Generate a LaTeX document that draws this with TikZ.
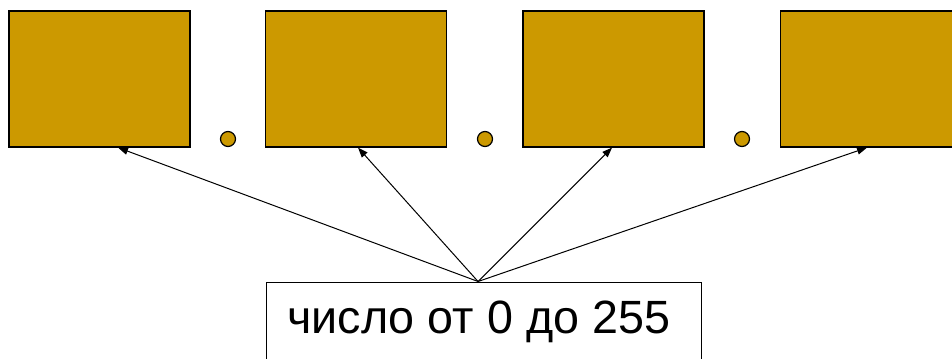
\documentclass[tikz,border=0pt]{standalone}
\usepackage{fontspec}
\setmainfont{Liberation Sans}
\definecolor{bytegold}{RGB}{204, 153, 0}
\usepackage{tikz}
\usetikzlibrary{arrows.meta, positioning, calc}
\tikzset{
  octet/.style={draw, line width=0.9pt, fill=bytegold, minimum width=135.75pt, minimum height=102pt, inner sep=0pt},
  sepdot/.style={circle, draw, line width=0.9pt, fill=bytegold, minimum size=11.25pt, inner sep=0pt},
  pointer/.style={-{Triangle[length=7.5pt, width=5.5pt]}, line width=0.75pt}
}

\begin{document}
\begin{tikzpicture}[x=0.75pt, y=0.75pt]
  \useasboundingbox (0, 0) rectangle (952, 358);
  \clip (0, 0) rectangle (952, 358);

  % Four octets of the address
  \node[octet] (b1) at (99.5, 279) {};
  \node[octet] (b2) at (356, 279) {};
  \node[octet] (b3) at (613.5, 279) {};
  \node[octet] (b4) at (871, 279) {};

  % Dots between them
  \node[sepdot] (d1) at (228, 219) {};
  \node[sepdot] (d2) at (485, 219) {};
  \node[sepdot] (d3) at (742, 219) {};

  % Value box
  \node[draw, line width=0.75pt, minimum width=326.25pt, minimum height=60pt, font=\fontsize{35}{42}\selectfont] (num) at (483.5, 36) {\hspace*{-7pt}число от 0 до 255};
  \coordinate (src) at ([xshift=-4.1pt]num.north);

  % Arrows
  \draw[pointer] (src) -- ([xshift=13.9pt]b1.south);
  \draw[pointer] (src) -- ([xshift=1.5pt]b2.south);
  \draw[pointer] (src) -- ([xshift=-1.1pt]b3.south);
  \draw[pointer] (src) -- ([xshift=-3pt]b4.south);
\end{tikzpicture}
\end{document}
